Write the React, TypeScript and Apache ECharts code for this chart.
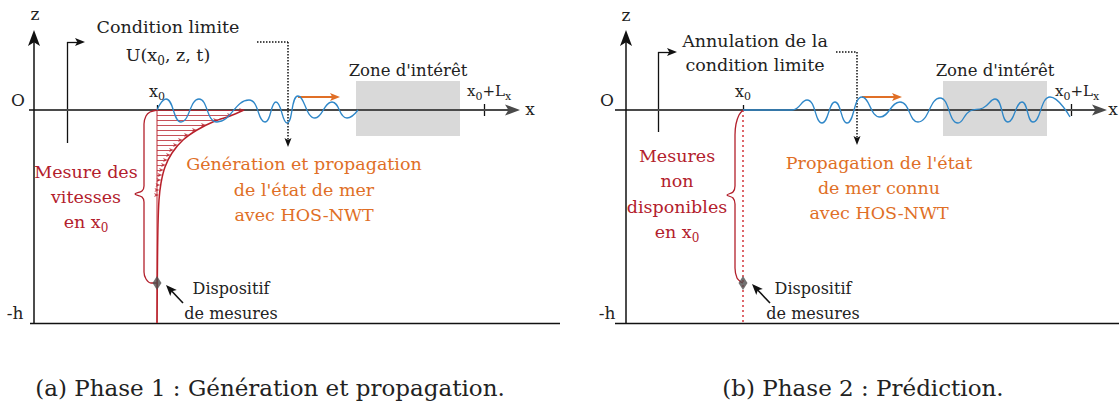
import React, { useEffect, useRef } from 'react';
import * as echarts from 'echarts';

// ---------- data (x measured from origin O along the free surface, z upward; -h = -H) ----------
const H = 21.3;

// Panel (a)
const aX0 = 12.3;
const aXL = 45.0;
const aWaveX = [12.3, 13.2, 14.7, 16.5, 18.3, 21.5, 23.1, 24.2, 25.3, 26.4, 28.1, 29.8, 31.3, 32.4];
const aWaveZ = [0, 1.1, -1.2, 1.1, -1.2, 1.0, -1.2, 0.8, -1.3, 1.4, -0.8, 0.8, -0.8, 0];
const hatchZ = [0, -0.5, -1, -1.5, -2, -2.5, -3, -3.5, -4, -4.5, -5, -5.5, -6, -6.5, -7, -7.5, -8, -8.5];
const hatchU = [21.0, 19.8, 18.4, 17.2, 16.3, 15.5, 14.9, 14.4, 14.0, 13.7, 13.4, 13.2, 13.0, 12.85, 12.75, 12.65, 12.55, 12.5];
const profileX = [21.0, 19.6, 18.1, 16.3, 14.9, 13.8, 13.1, 12.7, 12.5, 12.4, 12.35, 12.3];
const profileZ = [0, -0.6, -1.1, -2.0, -3.0, -4.3, -5.7, -7.3, -9.0, -11.5, -15.0, -21.3];
const aBraceX = [12.3, 11.6, 11.2, 11.0, 11.0, 10.8, 10.1, 10.8, 11.0, 11.0, 11.2, 11.7, 12.3];
const aBraceZ = [0, -0.2, -0.6, -1.4, -7.6, -8.1, -8.4, -8.7, -9.2, -16.2, -16.9, -17.3, -17.3];
const aZone = [32.2, 42.6];

// Panel (b)
const bX0 = 11.7;
const bXL = 44.5;
const bWaveX = [11.7, 15.0, 16.6, 18.1, 19.6, 20.9, 22.1, 23.6, 25.4, 27.4, 29.2, 31.4, 33.2, 34.4, 35.7, 36.9, 38.2, 39.6, 40.7, 42.4, 44.4];
const bWaveZ = [0, 0, 0, 1.0, -1.3, 0.8, -1.3, 1.3, -0.7, 0.8, -1.2, 1.2, -1.3, -0.1, 0.2, 1.1, -1.2, 0.8, -1.2, 1.3, -0.7];
const bBraceX = [11.7, 11.3, 11.0, 10.9, 10.9, 10.7, 10.1, 10.7, 10.9, 10.9, 11.1, 11.5, 11.7];
const bBraceZ = [0, -0.5, -1.4, -2.5, -7.6, -8.2, -8.5, -8.8, -9.4, -15.8, -16.8, -17.2, -17.3];
const bZone = [31.7, 42.1];

const zoneZ = [-2.6, 2.9];
const sensorZ = -17.3;

// ---------- styles ----------
const serif = "'DejaVu Serif', serif";
const INK = '#222222';
const RED = '#b3202c';
const ORANGE = '#e06f26';
const BLUE = '#2f87c8';
const PX = 10; // pixels per data unit
const HEAD = 'path://M0,0 L5,13 L0,10 L-5,13 Z';

type Seg = [number, number, number, number];

function plain(p: number, list: Seg[], color: string, width: number, type: any, z: number, opacity = 1) {
  return {
    type: 'lines', coordinateSystem: 'cartesian2d', xAxisIndex: p, yAxisIndex: p,
    silent: true, z, polyline: false, symbol: ['none', 'none'],
    lineStyle: { color, width, type, opacity, curveness: 0 },
    data: list.map(([x1, z1, x2, z2]) => ({ coords: [[x1, z1], [x2, z2]] })),
  };
}

// arrow = shaft (lines) + head (scatter, rotated along the shaft)
function arrows(p: number, list: Seg[], color: string, width: number, type: any, head: number[], z: number, opacity = 1) {
  const shafts: Seg[] = [];
  const heads: any[] = [];
  list.forEach(([x1, z1, x2, z2]) => {
    const dx = x2 - x1, dz = z2 - z1;
    const d = Math.hypot(dx, dz);
    const ux = dx / d, uz = dz / d;
    const k = head[1] / 2 / PX;
    const cx = x2 - ux * k, cz = z2 - uz * k;
    shafts.push([x1, z1, cx, cz]);
    heads.push({ value: [cx, cz], symbolRotate: (Math.atan2(-ux, uz) * 180) / Math.PI });
  });
  return [
    plain(p, shafts, color, width, type, z, opacity),
    {
      type: 'scatter', xAxisIndex: p, yAxisIndex: p, silent: true, z: z + 0.5, clip: false,
      symbol: HEAD, symbolSize: head, itemStyle: { color, opacity }, data: heads,
    },
  ];
}

function curve(p: number, xs: number[], zs: number[], color: string, width: number, smooth: number, z: number, type: any = 'solid') {
  return {
    type: 'line', xAxisIndex: p, yAxisIndex: p, silent: true, z, clip: false,
    data: xs.map((x, i) => [x, zs[i]]), smooth, symbol: 'none',
    lineStyle: { color, width, type },
  };
}

function panel(p: number, x0: number, xL: number, wx: number[], wz: number[], bx: number[], bz: number[], zone: number[], geo: any) {
  const list: any[] = [];
  list.push({
    type: 'line', xAxisIndex: p, yAxisIndex: p, data: [], silent: true, z: 1,
    markArea: { silent: true, itemStyle: { color: '#d9d9d9' }, label: { show: false }, data: [[{ coord: [zone[0], zoneZ[1]] }, { coord: [zone[1], zoneZ[0]] }]] },
  });
  list.push(plain(p, [
    [geo.bottom[0], -H, geo.bottom[1], -H],
    [xL, -0.6, xL, 0.6],
    [x0, 0, x0, 0.5],
    [geo.elbow[0], geo.elbow[1], geo.elbow[0], geo.elbow[2]],
  ], '#111', 1.3, 'solid', 3));
  list.push(...arrows(p, [[geo.axisX[0], 0, geo.axisX[1], 0]], '#4a4a4a', 2.2, 'solid', [11, 15], 3));
  list.push(...arrows(p, [[0, -H, 0, geo.axisZTop]], '#111', 1.5, 'solid', [12, 16], 3));
  list.push(...arrows(p, [[geo.elbow[0], geo.elbow[2], geo.elbow[3], geo.elbow[2]]], '#111', 1.3, 'solid', [8, 10], 4));
  list.push(plain(p, [[geo.dot[0], geo.dot[2], geo.dot[1], geo.dot[2]]], '#111', 1.5, 'dotted', 4));
  list.push(...arrows(p, [[geo.dot[1], geo.dot[2], geo.dot[1], geo.dot[3]]], '#111', 1.5, 'dotted', [7, 9], 4));
  list.push(...arrows(p, [[geo.orange[0], 1.3, geo.orange[1], 1.3]], ORANGE, 2, 'solid', [8, 10], 6));
  list.push(...arrows(p, [geo.sensorArrow], '#111', 1.6, 'solid', [9, 11], 6));
  if (p === 0) {
    list.push(plain(p, [[x0, 0, x0, -H]], '#d77a80', 1.6, 'solid', 4));
    list.push(...arrows(p, hatchZ.map((z, i) => [x0, z, hatchU[i], z] as Seg), '#b8242f', 1, 'solid', [4, 5], 5, 0.8));
    list.push(curve(p, profileX, profileZ, '#b8202a', 1.5, 0.3, 5));
  } else {
    list.push(plain(p, [[x0, 0, x0, -H]], '#d3353a', 1.5, [2, 3], 4));
  }
  list.push(curve(p, bx, bz, RED, 1.3, 0.35, 5));
  list.push(curve(p, wx, wz, BLUE, 1.3, 0.5, 6));
  list.push({
    type: 'scatter', xAxisIndex: p, yAxisIndex: p, silent: true, z: 7,
    symbol: 'diamond', symbolSize: [9, 14], itemStyle: { color: '#4d4d4d' },
    data: [[x0, sensorZ]],
  });
  return list;
}

function label(x: number, y: number, text: string, size: number, color = INK, lineHeight?: number) {
  const sub = Math.round(size * 0.7);
  return {
    type: 'text', x, y, silent: true, z: 20,
    style: {
      text, fontSize: size, fontFamily: serif, fill: color, align: 'center', verticalAlign: 'middle',
      lineHeight: lineHeight ?? Math.round(size * 1.3),
      rich: { s: { fontSize: sub, fontFamily: serif, fill: color, color, padding: [sub, 0, 0, 0], lineHeight: sub } },
    },
  };
}

function buildOption() {
  const aGeo = { bottom: [-0.4, 52.6], axisX: [-0.5, 48.6], axisZTop: 8.0, elbow: [3.3, -3.3, 6.8, 5.1], dot: [22.3, 25.4, 6.8, -3.7], orange: [26.4, 30.6], sensorArrow: [14.9, -19.3, 13.2, -17.5] as Seg };
  const bGeo = { bottom: [-1.1, 49.3], axisX: [-1.1, 48.1], axisZTop: 8.0, elbow: [3.2, -2.2, 5.8, 5.1], dot: [21.0, 23.1, 5.8, -3.5], orange: [23.6, 27.6], sensorArrow: [14.4, -19.3, 12.6, -17.4] as Seg };
  const M = 17.5; // main text size
  return {
    animation: false,
    backgroundColor: '#ffffff',
    textStyle: { fontFamily: serif },
    grid: [
      { left: 24, top: 0, width: 536, height: 370 },
      { left: 611, top: 0, width: 508, height: 370 },
    ],
    xAxis: [
      { gridIndex: 0, type: 'value', min: -1, max: 52.6, show: false },
      { gridIndex: 1, type: 'value', min: -1.5, max: 49.3, show: false },
    ],
    yAxis: [
      { gridIndex: 0, type: 'value', min: -26, max: 11, show: false },
      { gridIndex: 1, type: 'value', min: -26, max: 11, show: false },
    ],
    series: [
      ...panel(0, aX0, aXL, aWaveX, aWaveZ, aBraceX, aBraceZ, aZone, aGeo),
      ...panel(1, bX0, bXL, bWaveX, bWaveZ, bBraceX, bBraceZ, bZone, bGeo),
    ],
    graphic: [
      label(35, 14, 'z', 17),
      label(18, 100, 'O', 17),
      label(15, 313, '-h', 17),
      label(168, 41, 'Condition limite\nU(x{s|0}, z, t)', M, INK, 28),
      label(157, 91, 'x{s|0}', 16),
      label(408, 70, "Zone d'intérêt", 16.5),
      label(489, 91, 'x{s|0}+L{s|x}', 15),
      label(530, 109, 'x', 17),
      label(304, 189.5, "Génération et propagation\nde l'état de mer\navec HOS-NWT", M, ORANGE, 25.5),
      label(86, 197, 'Mesure des\nvitesses\nen x{s|0}', M, RED, 25),
      label(231, 300.5, 'Dispositif\nde mesures', 16, INK, 25),
      label(270, 388, '(a) Phase 1 : Génération et propagation.', 23),

      label(626, 15, 'z', 17),
      label(607, 100, 'O', 17),
      label(607, 313, '-h', 17),
      label(755, 53, 'Annulation de la\ncondition limite', M, INK, 24),
      label(743, 91, 'x{s|0}', 16),
      label(995, 70, "Zone d'intérêt", 16.5),
      label(1077, 91, 'x{s|0}+L{s|x}', 15),
      label(1113, 109, 'x', 17),
      label(879, 188, "Propagation de l'état\nde mer connu\navec HOS-NWT", M, ORANGE, 25),
      label(677, 194, 'Mesures\nnon\ndisponibles\nen x{s|0}', M, RED, 25.3),
      label(813, 301, 'Dispositif\nde mesures', 16, INK, 25),
      label(863, 388, '(b) Phase 2 : Prédiction.', 23),
    ],
  };
}

export default function App() {
  const ref = useRef<HTMLDivElement>(null);
  useEffect(() => {
    const chart = echarts.init(ref.current!, null, { renderer: 'svg' });
    chart.setOption(buildOption() as any);
    return () => chart.dispose();
  }, []);
  return <div ref={ref} style={{ position: 'absolute', left: 0, top: 0, width: 1119, height: 409, background: '#fff' }} />;
}
